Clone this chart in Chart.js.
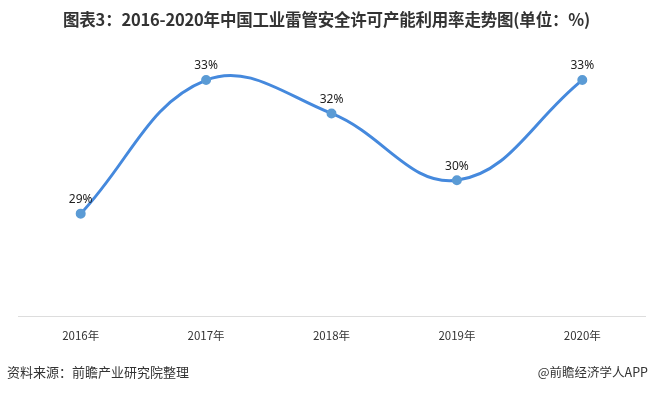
<!DOCTYPE html>
<html><head><meta charset="utf-8">
<script src="https://cdn.jsdelivr.net/npm/chart.js@4/dist/chart.umd.min.js"></script>
<style>
html,body{margin:0;padding:0;background:#fff;}
#wrap{position:relative;width:652px;height:393px;overflow:hidden;font-family:"Noto Sans CJK SC","Noto Sans",sans-serif;}
#title{position:absolute;left:63px;top:7px;font-size:16.5px;font-weight:bold;color:#333;white-space:nowrap;letter-spacing:-0.2px;}
#src{position:absolute;left:7px;top:362px;font-size:13px;color:#333;white-space:nowrap;}
#brand{position:absolute;right:4px;top:362px;font-size:12.5px;color:#333;white-space:nowrap;}
canvas{position:absolute;left:0;top:0;}
</style></head>
<body><div id="wrap">
<canvas id="c" width="652" height="393"></canvas>
<div id="title">图表3：2016-2020年中国工业雷管安全许可产能利用率走势图(单位：%)</div>
<div id="src">资料来源：前瞻产业研究院整理</div>
<div id="brand">@前瞻经济学人APP</div>
</div>
<script>
const categories = ["2016年","2017年","2018年","2019年","2020年"];
const utilization = [29, 33, 32, 30, 33];
const valueLabels = ["29%","33%","32%","30%","33%"];

const labelPlugin = {
  id:'valueLabels',
  afterDatasetsDraw(chart){
    const ctx = chart.ctx;
    const meta = chart.getDatasetMeta(0);
    ctx.save();
    ctx.font = '12px "Noto Sans","DejaVu Sans",sans-serif';
    ctx.fillStyle = '#222';
    ctx.textAlign = 'center';
    ctx.textBaseline = 'bottom';
    meta.data.forEach((pt,i)=>{
      ctx.fillText(valueLabels[i], pt.x, pt.y - 8);
    });
    ctx.restore();
  }
};

new Chart(document.getElementById('c'), {
  type:'line',
  data:{
    labels:categories,
    datasets:[{
      data:utilization,
      borderColor:'#4589dd',
      borderWidth:3,
      tension:0.4,
      pointRadius:3.5,
      pointBackgroundColor:'#5b9bd5',
      pointBorderColor:'#5b9bd5',
      fill:false
    }]
  },
  options:{
    responsive:false,
    animation:false,
    layout:{padding:{left:18,right:5,top:51,bottom:37}},
    plugins:{legend:{display:false},tooltip:{enabled:false}},
    scales:{
      x:{
        offset:true,
        grid:{display:false,drawTicks:false},
        border:{display:true,color:'#dddddd',width:1},
        ticks:{padding:13,color:'#333',font:{size:11.5,family:'"Noto Sans CJK SC","Noto Sans",sans-serif'}}
      },
      y:{
        display:false,
        min:25.93,
        max:33.87
      }
    }
  },
  plugins:[labelPlugin]
});
</script>
</body></html>
